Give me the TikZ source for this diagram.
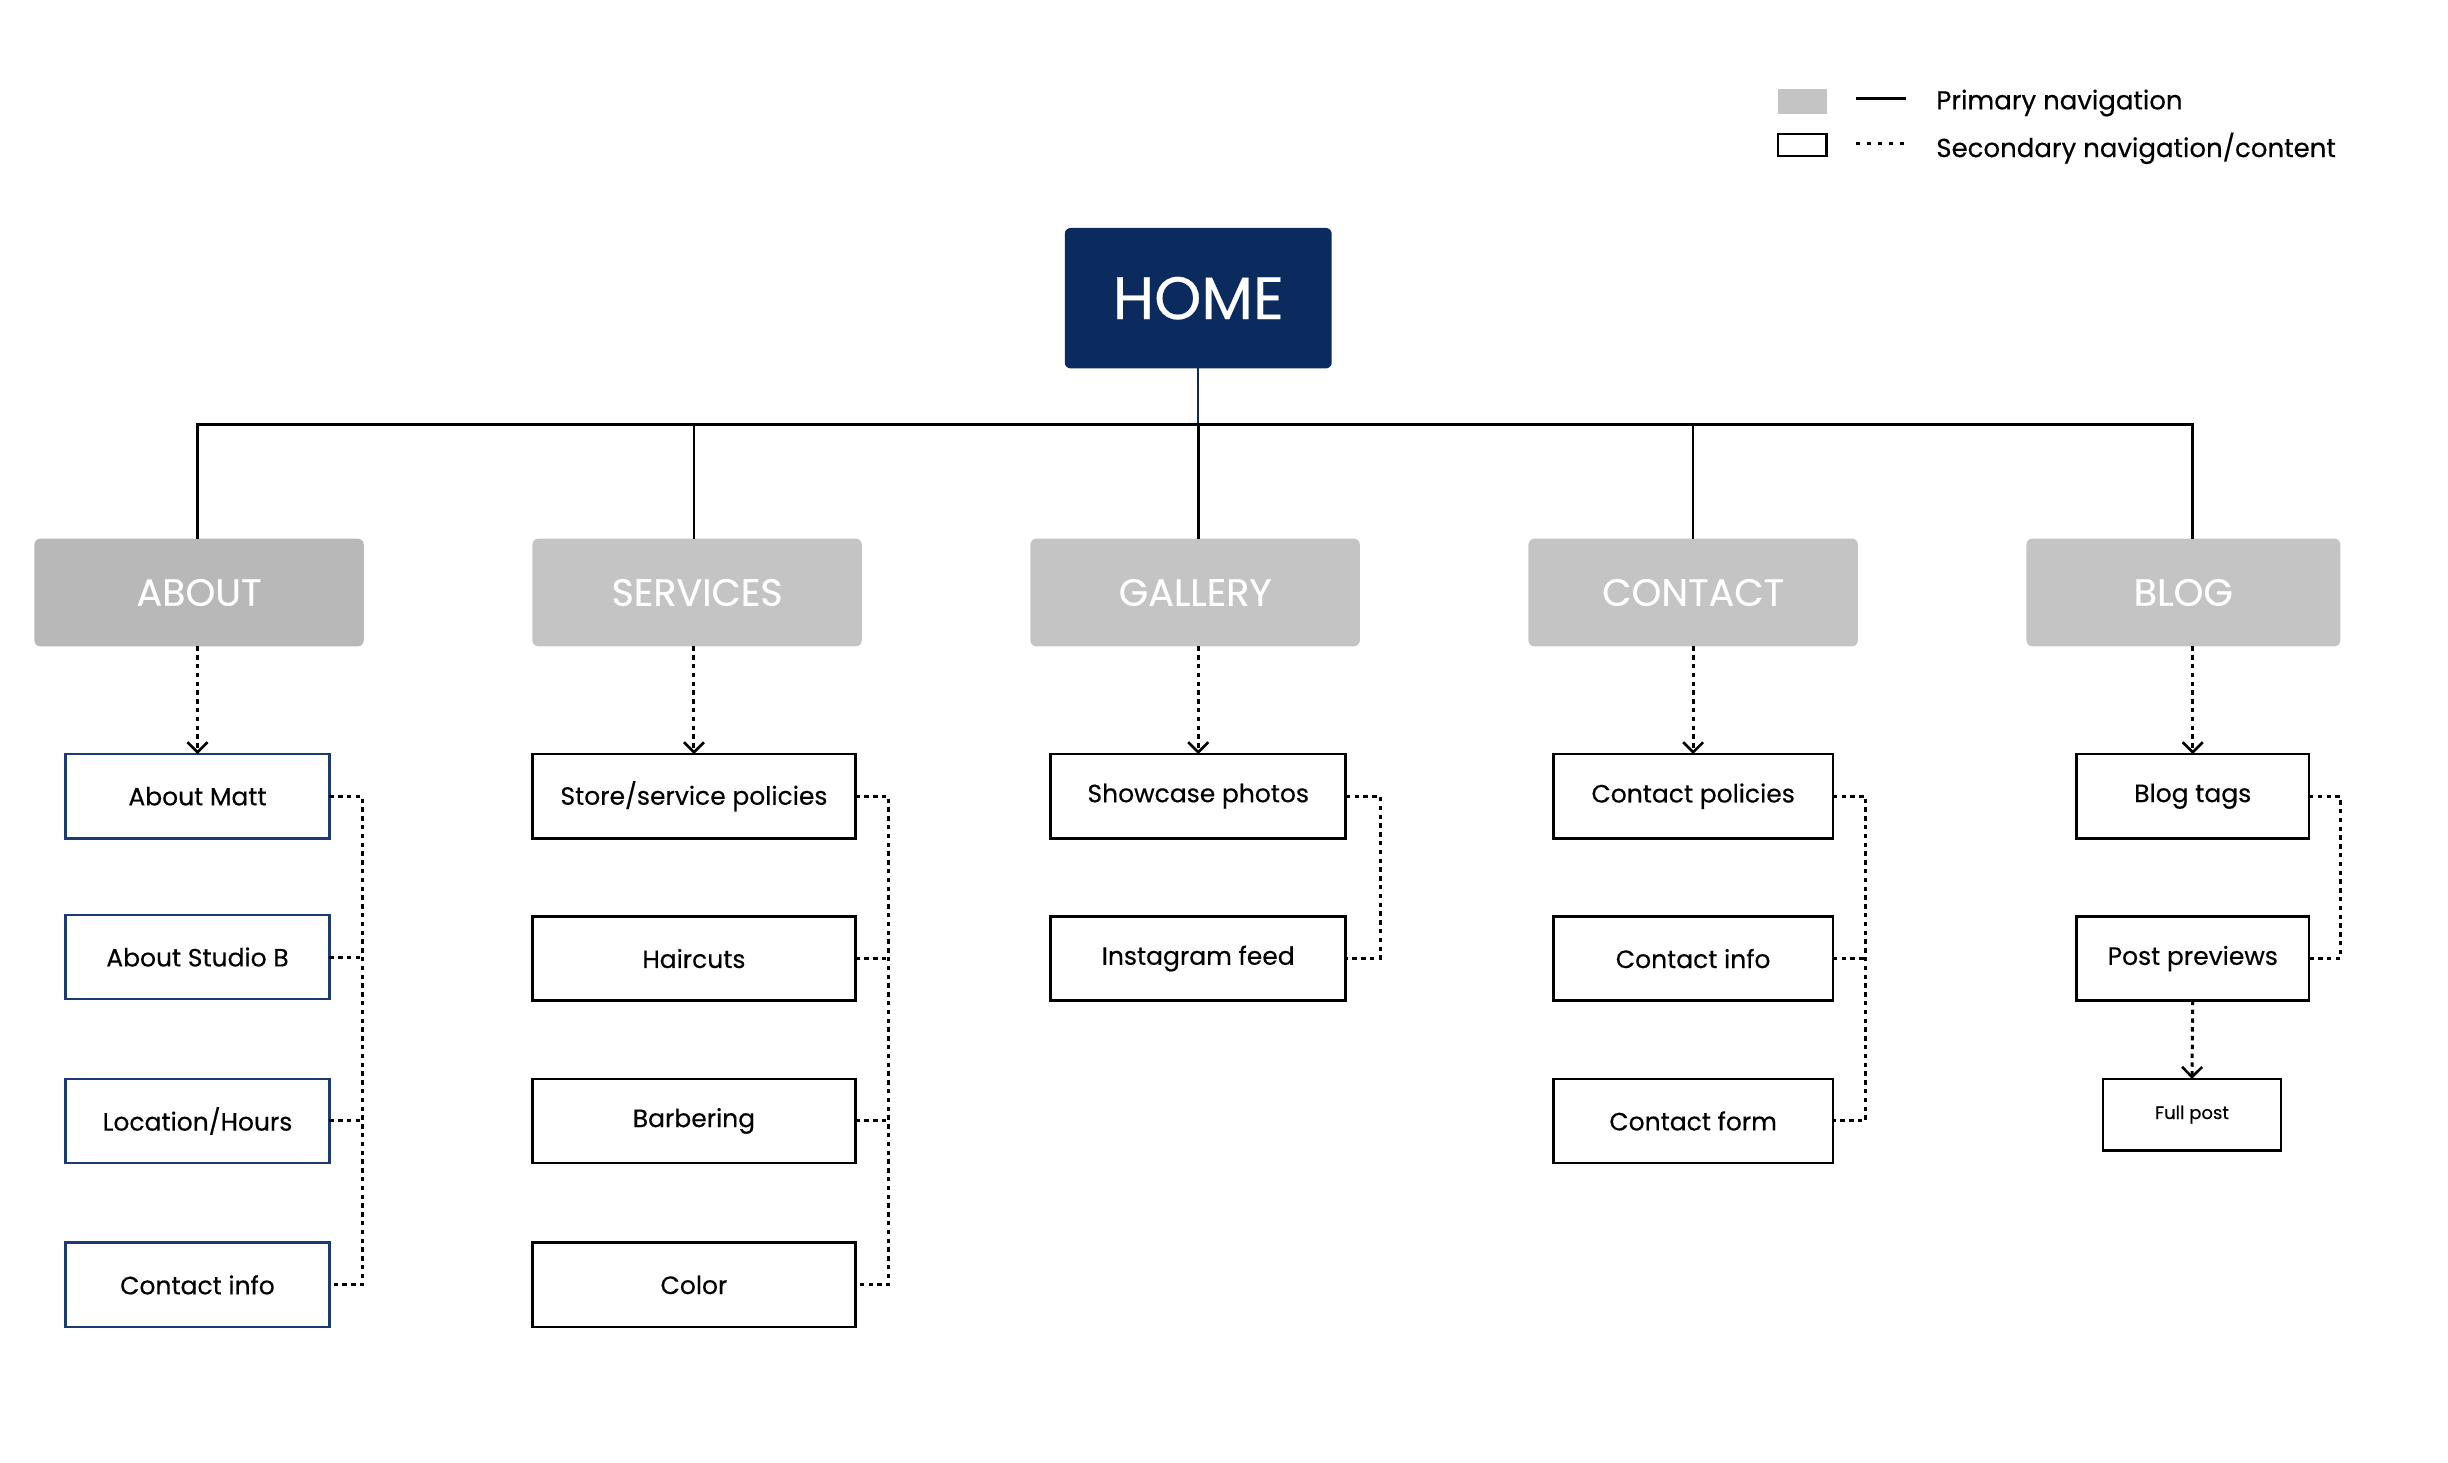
\documentclass[tikz,border=0pt]{standalone}
\usepackage{fontspec}
\setmainfont{Poppins}[FakeBold=0.35]
\usetikzlibrary{arrows.meta}
\definecolor{navy}{HTML}{0B2A5E}
\definecolor{boxnavy}{HTML}{1C3B73}
\definecolor{graydark}{HTML}{B8B8B8}
\definecolor{graylight}{HTML}{C4C4C4}
\begin{document}
\begin{tikzpicture}[x=0.7806pt,y=-0.7806pt,
  sz/.style 2 args={minimum width=#1*0.7806pt, minimum height=#2*0.7806pt, inner sep=0pt, outer sep=0pt},
  homebox/.style={sz={171}{90}, fill=navy, rounded corners=3pt, text=white, font=\fontsize{30}{30}\selectfont},
  topbox/.style={sz={211}{69}, fill=graylight, rounded corners=3pt, text=white, font=\fontsize{19}{19}\selectfont},
  childbox/.style={draw=black, line width=1.3pt, fill=white, font=\fontsize{12.5}{12.5}\selectfont},
  prim/.style={line width=1.3pt, black},
  sec/.style={line width=1.5pt, black, dash pattern=on 2.2pt off 2.2pt},
  secarrow/.style={sec, -{Straight Barb[length=5pt,width=10pt,line width=1.3pt]}},
  legtext/.style={anchor=west, inner sep=0pt, font=\fontsize{13}{13}\selectfont}
]
\useasboundingbox (0,0) rectangle (1568,937);

% legend
\node[sz={31}{16}, fill=graylight, anchor=north west] (lgprim) at (1139,57) {};
\node[sz={31}{14}, draw=black, line width=1.2pt, anchor=north west] (lgsec) at (1139,86) {};
\coordinate (lps) at (1189,63);
\coordinate (lpe) at (1221,63);
\coordinate (lss) at (1189,92);
\coordinate (lse) at (1221,92);
\draw[prim, line width=1.8pt] (lps) -- (lpe);
\draw[sec, line width=1.8pt, dash pattern=on 2pt off 3.5pt] (lss) -- (lse);
\node[legtext] (lgt1) at (1240,66) {Primary navigation};
\node[legtext] (lgt2) at (1240,95) {Secondary navigation/content};

% home
\node[homebox] (home) at (767.5,191) {HOME};

% level 1
\node[topbox, fill=graydark] (about) at (127.5,379.5) {ABOUT};
\node[topbox] (services) at (446.5,379.5) {SERVICES};
\node[topbox] (gallery) at (765.5,379.5) {GALLERY};
\node[topbox] (contact) at (1084.5,379.5) {CONTACT};
\node[topbox, sz={201}{69}] (blog) at (1398.5,379.5) {BLOG};

% children
\node[childbox, draw=boxnavy, sz={169}{54}] (a1) at (126.5,510) {About Matt};
\node[childbox, draw=boxnavy, sz={169}{54}] (a2) at (126.5,613) {About Studio B};
\node[childbox, draw=boxnavy, sz={169}{54}] (a3) at (126.5,718) {Location/Hours};
\node[childbox, draw=boxnavy, sz={169}{54}] (a4) at (126.5,823) {Contact info};

\node[childbox, sz={207}{54}] (s1) at (444.5,510) {Store/service policies};
\node[childbox, sz={207}{54}] (s2) at (444.5,614) {Haircuts};
\node[childbox, sz={207}{54}] (s3) at (444.5,718) {Barbering};
\node[childbox, sz={207}{54}] (s4) at (444.5,823) {Color};

\node[childbox, sz={189}{54}] (g1) at (767.5,510) {Showcase photos};
\node[childbox, sz={189}{54}] (g2) at (767.5,614) {Instagram feed};

\node[childbox, sz={179}{54}] (c1) at (1084.5,510) {Contact policies};
\node[childbox, sz={179}{54}] (c2) at (1084.5,614) {Contact info};
\node[childbox, sz={179}{54}] (c3) at (1084.5,718) {Contact form};

\node[childbox, sz={149}{54}] (b1) at (1404.5,510) {Blog tags};
\node[childbox, sz={149}{54}] (b2) at (1404.5,614) {Post previews};
\node[childbox, sz={114}{46}, font=\fontsize{9}{9}\selectfont] (b3) at (1404,714) {Full post};

% primary connectors
\coordinate (bus) at (767.5,272);
\draw[prim, navy, line width=1pt] (home.south) -- (home.south |- bus);
\draw[prim] (a1.north |- about.north) -- (a1.north |- bus) -- (b1.north |- bus) -- (b1.north |- blog.north);
\draw[prim] (s1.north |- bus) -- (s1.north |- services.north);
\draw[prim] (g1.north |- bus) -- (g1.north |- gallery.north);
\draw[prim] (c1.north |- bus) -- (c1.north |- contact.north);

% secondary arrows
\draw[secarrow] (a1.north |- about.south) -- (a1.north);
\draw[secarrow] (s1.north |- services.south) -- (s1.north);
\draw[secarrow] (g1.north |- gallery.south) -- (g1.north);
\draw[secarrow] (c1.north |- contact.south) -- (c1.north);
\draw[secarrow] (b1.north |- blog.south) -- (b1.north);
\draw[secarrow] (b2.south) -- (b3.north);

% side connectors
\draw[sec] (a1.east) -- ++(21,0) |- (a4.east);
\draw[sec] (a2.east) -- ++(21,0);
\draw[sec] (a3.east) -- ++(21,0);
\draw[sec] (s1.east) -- ++(21,0) |- (s4.east);
\draw[sec] (s2.east) -- ++(21,0);
\draw[sec] (s3.east) -- ++(21,0);
\draw[sec] (g1.east) -- ++(22,0) |- (g2.east);
\draw[sec] (c1.east) -- ++(21,0) |- (c3.east);
\draw[sec] (c2.east) -- ++(21,0);
\draw[sec] (b1.east) -- ++(20,0) |- (b2.east);
\end{tikzpicture}
\end{document}
